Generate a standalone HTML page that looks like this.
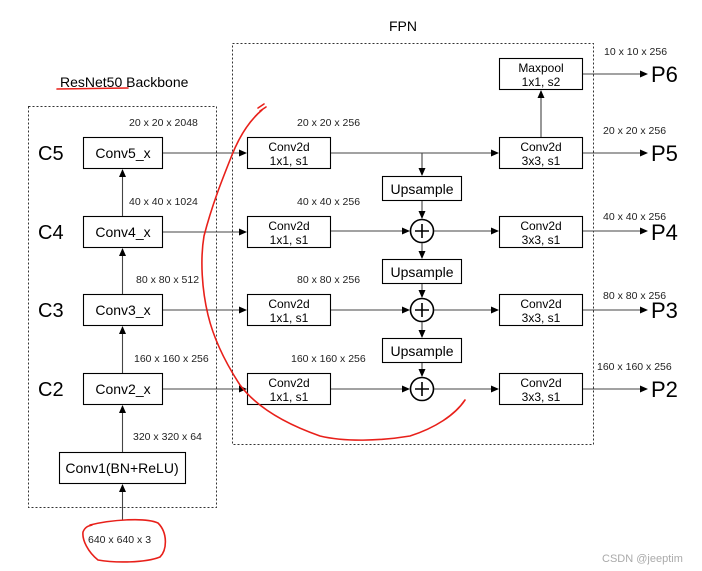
<!DOCTYPE html>
<html><head><meta charset="utf-8"><style>
html,body{margin:0;padding:0;background:#fff;}
svg{display:block;font-family:"Liberation Sans",Arial,sans-serif;}
</style></head><body>
<svg width="702" height="571" viewBox="0 0 702 571" xmlns="http://www.w3.org/2000/svg">
<defs>
<marker id="a" markerWidth="8" markerHeight="8" refX="7" refY="4" orient="auto" markerUnits="userSpaceOnUse">
<path d="M0,0.5 L8,4 L0,7.5 Z" fill="#000"/>
</marker>
</defs>
<rect width="702" height="571" fill="#fff"/>
<rect x="28.5" y="106.5" width="188" height="401" fill="none" stroke="#333" stroke-dasharray="2,2"/>
<rect x="232.5" y="43.5" width="361" height="401" fill="none" stroke="#333" stroke-dasharray="2,2"/>
<text x="60" y="87" font-size="14">ResNet50 Backbone</text>
<text x="389" y="31" font-size="14">FPN</text>

<g fill="none" stroke="#000" stroke-width="1.1">
<rect x="83.5" y="137.5" width="79" height="31"/>
<rect x="83.5" y="216.5" width="79" height="31"/>
<rect x="83.5" y="294.5" width="79" height="31"/>
<rect x="83.5" y="373.5" width="79" height="31"/>
<rect x="59.5" y="452.5" width="126" height="31"/>
<rect x="247.5" y="137.5" width="83" height="31"/>
<rect x="247.5" y="216.5" width="83" height="31"/>
<rect x="247.5" y="294.5" width="83" height="31"/>
<rect x="247.5" y="373.5" width="83" height="31"/>
<rect x="382.5" y="176.5" width="79" height="24"/>
<rect x="382.5" y="259.5" width="79" height="24"/>
<rect x="382.5" y="338.5" width="79" height="24"/>
<rect x="499.5" y="58.5" width="83" height="31"/>
<rect x="499.5" y="137.5" width="83" height="31"/>
<rect x="499.5" y="216.5" width="83" height="31"/>
<rect x="499.5" y="294.5" width="83" height="31"/>
<rect x="499.5" y="373.5" width="83" height="31"/>
</g>
<g fill="none" stroke="#000" stroke-width="1.6">
<circle cx="422" cy="231" r="11.5"/><path d="M415 231H429M422 224V238"/>
<circle cx="422" cy="310" r="11.5"/><path d="M415 310H429M422 303V317"/>
<circle cx="422" cy="389" r="11.5"/><path d="M415 389H429M422 382V396"/>
</g>

<g stroke="#444" stroke-width="1.1" fill="none" marker-end="url(#a)">
<path d="M122.5 520V485"/>
<path d="M122.5 452V406"/>
<path d="M122.5 373V327"/>
<path d="M122.5 294V249"/>
<path d="M122.5 216V170"/>
<path d="M163 153H246"/>
<path d="M163 232H246"/>
<path d="M163 310H246"/>
<path d="M163 389H246"/>
<path d="M331 153H498"/>
<path d="M422 153V175"/>
<path d="M422 201V218"/>
<path d="M331 231H409"/>
<path d="M434 231H498"/>
<path d="M422 243V258"/>
<path d="M422 284V297"/>
<path d="M331 310H409"/>
<path d="M434 310H498"/>
<path d="M422 322V337"/>
<path d="M422 363V376"/>
<path d="M331 389H409"/>
<path d="M434 389H498"/>
<path d="M541 137V91"/>
<path d="M583 74H647"/>
<path d="M583 153H647"/>
<path d="M583 231H647"/>
<path d="M583 310H647"/>
<path d="M583 389H647"/>
</g>

<g font-size="14" text-anchor="middle">
<text x="123" y="158">Conv5_x</text>
<text x="123" y="237">Conv4_x</text>
<text x="123" y="315">Conv3_x</text>
<text x="123" y="394">Conv2_x</text>
<text x="122" y="473">Conv1(BN+ReLU)</text>
<text x="422" y="194">Upsample</text>
<text x="422" y="277">Upsample</text>
<text x="422" y="356">Upsample</text>
</g>
<g font-size="12" text-anchor="middle">
<text x="289" y="151">Conv2d</text><text x="289" y="165">1x1, s1</text>
<text x="289" y="230">Conv2d</text><text x="289" y="244">1x1, s1</text>
<text x="289" y="308">Conv2d</text><text x="289" y="322">1x1, s1</text>
<text x="289" y="387">Conv2d</text><text x="289" y="401">1x1, s1</text>
<text x="541" y="72">Maxpool</text><text x="541" y="86">1x1, s2</text>
<text x="541" y="151">Conv2d</text><text x="541" y="165">3x3, s1</text>
<text x="541" y="230">Conv2d</text><text x="541" y="244">3x3, s1</text>
<text x="541" y="308">Conv2d</text><text x="541" y="322">3x3, s1</text>
<text x="541" y="387">Conv2d</text><text x="541" y="401">3x3, s1</text>
</g>
<g font-size="20">
<text x="38" y="160">C5</text>
<text x="38" y="239">C4</text>
<text x="38" y="317">C3</text>
<text x="38" y="396">C2</text>
</g>
<g font-size="22">
<text x="651" y="82">P6</text>
<text x="651" y="161">P5</text>
<text x="651" y="240">P4</text>
<text x="651" y="318">P3</text>
<text x="651" y="397">P2</text>
</g>
<g font-size="10.5" fill="#222">
<text x="129" y="126">20 x 20 x 2048</text>
<text x="129" y="205">40 x 40 x 1024</text>
<text x="136" y="283">80 x 80 x 512</text>
<text x="134" y="362">160 x 160 x 256</text>
<text x="133" y="440">320 x 320 x 64</text>
<text x="297" y="126">20 x 20 x 256</text>
<text x="297" y="205">40 x 40 x 256</text>
<text x="297" y="283">80 x 80 x 256</text>
<text x="291" y="362">160 x 160 x 256</text>
<text x="604" y="55">10 x 10 x 256</text>
<text x="603" y="134">20 x 20 x 256</text>
<text x="603" y="220">40 x 40 x 256</text>
<text x="603" y="299">80 x 80 x 256</text>
<text x="597" y="370">160 x 160 x 256</text>
<text x="88" y="543">640 x 640 x 3</text>
</g>
<text x="602" y="562" font-size="11" fill="#aaa">CSDN @jeeptim</text>

<g fill="none" stroke="#e8201a" stroke-width="1.6" stroke-linecap="round" stroke-linejoin="round">
<path d="M57 89L128 88"/>
<path d="M262 110C250 120 240 135 232 155C222 180 212 205 204 236C200 260 202 290 208 315C214 340 225 362 240 385C255 405 280 422 320 436C345 442 380 441 410 436C435 428 455 415 465 400"/>
<path d="M258 108L264 104M260 111L266 107"/>
<path d="M90 525C110 520 145 517 158 523C168 533 167 550 160 557C145 563 115 563 98 560C88 552 82 540 83 532C85 527 88 526 92 525"/>
</g>
</svg>
</body></html>
